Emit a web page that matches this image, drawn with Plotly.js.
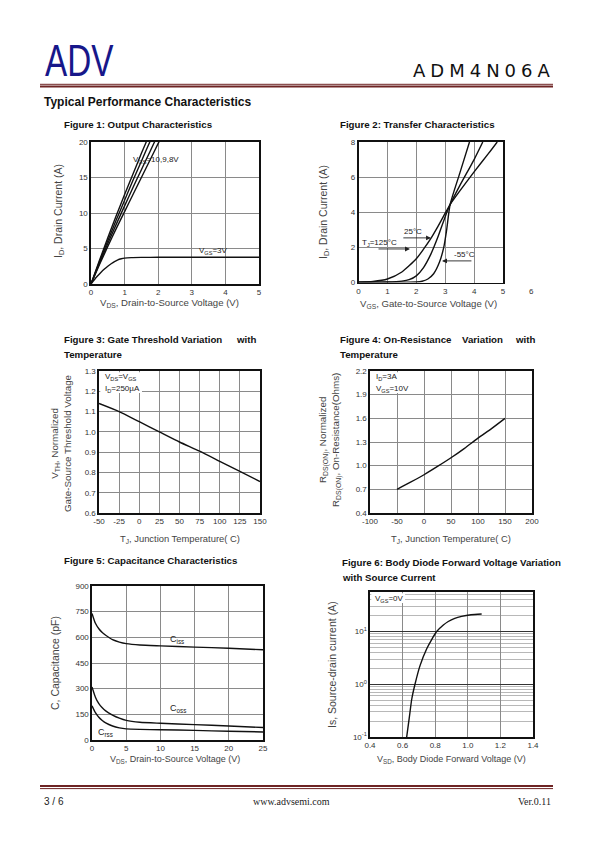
<!DOCTYPE html>
<html>
<head>
<meta charset="utf-8">
<script src="https://cdn.plot.ly/plotly-3.0.1.min.js"></script>
<style>html,body{margin:0;padding:0;background:#fff}</style>
</head>
<body>
<div id="chart" style="width:595px;height:842px"></div>
<script>
// ---------- Figure 1: Output characteristics ----------
const out_vds = [0, 0.25, 0.5, 0.75, 1.0, 1.25, 1.5, 1.75, 2.0, 2.25];
const out_id_vgs10 = [0, 3.3, 6.5, 9.6, 12.6, 15.5, 18.4, 21.2, 24.0, 26.8];
const out_id_vgs9  = [0, 3.1, 6.1, 9.0, 11.8, 14.6, 17.3, 20.0, 22.6, 25.2];
const out_id_vgs8  = [0, 2.9, 5.7, 8.4, 11.0, 13.6, 16.1, 18.6, 21.1, 23.6];
const out_id_vgs7  = [0, 2.7, 5.3, 7.8, 10.2, 12.6, 15.0, 17.4, 19.8, 22.2];
const out_vds3 = [0, 0.1, 0.2, 0.3, 0.4, 0.5, 0.6, 0.7, 0.8, 0.9, 1.0, 1.2, 1.5, 2, 3, 4, 5];
const out_id_vgs3 = [0, 0.6, 1.15, 1.65, 2.1, 2.5, 2.85, 3.15, 3.4, 3.55, 3.65, 3.72, 3.75, 3.76, 3.77, 3.77, 3.77];
const f1_xticks = [0, 1, 2, 3, 4, 5];
const f1_yticks = [0, 5, 10, 15, 20];

// ---------- Figure 2: Transfer characteristics ----------
const tr_vgs_125 = [0, 0.5, 1.0, 1.5, 2.0, 2.25, 2.5, 2.75, 3.0, 3.17, 3.5, 4.0, 4.5, 4.8];
const tr_id_125  = [0.02, 0.06, 0.2, 0.6, 1.35, 1.9, 2.5, 3.2, 3.95, 4.44, 5.2, 6.3, 7.35, 8.0];
const tr_vgs_25  = [0, 1.0, 1.5, 1.75, 2.0, 2.25, 2.5, 2.75, 3.0, 3.17, 3.5, 4.0, 4.3];
const tr_id_25   = [0.02, 0.03, 0.08, 0.16, 0.38, 0.85, 1.6, 2.6, 3.75, 4.44, 5.5, 7.0, 8.0];
const tr_vgs_m55 = [0, 1.5, 2.0, 2.2, 2.4, 2.6, 2.8, 2.95, 3.05, 3.17, 3.5, 3.84];
const tr_id_m55  = [0.02, 0.02, 0.03, 0.07, 0.2, 0.5, 1.15, 2.0, 3.0, 4.44, 6.2, 8.0];
const f2_xticks = [0, 1, 2, 3, 4, 5];
const f2_extra_tick = "6";
const f2_yticks = [0, 2, 4, 6, 8];

// ---------- Figure 3: Gate threshold vs temperature ----------
const vth_tj  = [-50, -25, 0, 25, 50, 75, 100, 125, 150];
const vth_norm = [1.14, 1.10, 1.05, 1.0, 0.95, 0.905, 0.855, 0.805, 0.755];
const f3_xticks = [-50, -25, 0, 25, 50, 75, 100, 125, 150];
const f3_xticklabels = ["-50", "-25", "0", "25", "50", "75", "100", "125", "150"];
const f3_yticks = [0.6, 0.7, 0.8, 0.9, 1.0, 1.1, 1.2, 1.3];

// ---------- Figure 4: On-resistance vs temperature ----------
const rds_tj   = [-50, -25, 0, 25, 50, 75, 100, 125, 150];
const rds_norm = [0.70, 0.79, 0.885, 0.99, 1.10, 1.22, 1.35, 1.47, 1.60];
const f4_xticks = [-100, -50, 0, 50, 100, 150, 200];
const f4_xticklabels = ["-100", "-50", "0", "50", "100", "150", "200"];
const f4_yticks = [0.4, 0.7, 1.0, 1.3, 1.6, 1.9, 2.2];

// ---------- Figure 5: Capacitance ----------
const cap_vds = [0, 0.5, 1, 1.5, 2, 3, 4, 5, 7, 10, 15, 20, 25];
const cap_ciss = [740, 682, 650, 628, 612, 586, 572, 563, 555, 550, 543, 536, 527];
const cap_coss = [310, 250, 212, 188, 170, 146, 128, 115, 104, 98, 90, 82, 73];
const cap_crss = [200, 160, 133, 114, 100, 82, 71, 65, 62, 60, 56, 51, 47];
const f5_xticks = [0, 5, 10, 15, 20, 25];
const f5_yticks = [0, 150, 300, 450, 600, 750, 900];

// ---------- Figure 6: Body diode ----------
const bd_vsd = [0.625, 0.64, 0.656, 0.676, 0.707, 0.748, 0.78, 0.809, 0.85, 0.88, 0.92, 0.962, 1.02, 1.085];
const bd_is  = [0.1, 0.22, 0.52, 1.0, 2.26, 4.7, 7.2, 10, 13.3, 15.5, 17.8, 19.4, 20.8, 21.5];
const f6_xticks = [0.4, 0.6, 0.8, 1.0, 1.2, 1.4];
const f6_yticks = [0.1, 1, 10];
const f6_yticktext = ["10<sup>-1</sup>", "10<sup>0</sup>", "10<sup>1</sup>"];
const f6_minor = [0.2, 0.3, 0.4, 0.5, 0.6, 0.7, 0.8, 0.9, 2, 3, 4, 5, 6, 7, 8, 9, 20, 30, 40, 50];

// ---------- layout helpers ----------
const W = 595, H = 842;
const FONT = "Arial, 'Liberation Sans', sans-serif";
const dx = (a, b) => [a / W, b / W];
const dy = (top, bot) => [1 - bot / H, 1 - top / H];
const GRID = '#8a8a8a';

function axis(domain, anchor, range, tickvals, extra) {
  return Object.assign({
    domain: domain, anchor: anchor, range: range,
    tickmode: 'array', tickvals: tickvals,
    showgrid: true, gridcolor: GRID, gridwidth: 1,
    zeroline: false, showline: true, mirror: true,
    linecolor: '#111', linewidth: 1.6, ticks: '',
    tickfont: {family: FONT, size: 8, color: '#333'},
    fixedrange: true
  }, extra || {});
}

const line = (x, y, xa, ya, name) => ({
  type: 'scatter', mode: 'lines', x: x, y: y, xaxis: xa, yaxis: ya, name: name,
  line: {color: '#111', width: 1.4, shape: 'spline', smoothing: 0.6}, hoverinfo: 'skip'
});

const traces = [
  line(out_vds, out_id_vgs10, 'x', 'y', 'VGS=10V'),
  line(out_vds, out_id_vgs9, 'x', 'y', 'VGS=9V'),
  line(out_vds, out_id_vgs8, 'x', 'y', 'VGS=8V'),
  line(out_vds, out_id_vgs7, 'x', 'y', 'VGS=7V'),
  line(out_vds3, out_id_vgs3, 'x', 'y', 'VGS=3V'),
  line(tr_vgs_125, tr_id_125, 'x2', 'y2', '125C'),
  line(tr_vgs_25, tr_id_25, 'x2', 'y2', '25C'),
  line(tr_vgs_m55, tr_id_m55, 'x2', 'y2', '-55C'),
  line(vth_tj, vth_norm, 'x3', 'y3', 'VTH'),
  line(rds_tj, rds_norm, 'x4', 'y4', 'RDS(ON)'),
  line(cap_vds, cap_ciss, 'x5', 'y5', 'Ciss'),
  line(cap_vds, cap_coss, 'x5', 'y5', 'Coss'),
  line(cap_vds, cap_crss, 'x5', 'y5', 'Crss'),
  line(bd_vsd, bd_is, 'x6', 'y6', 'Is')
];

// paper-positioned text
function T(x, y, text, o) {
  o = o || {};
  return {
    xref: 'paper', yref: 'paper', x: x / W, y: 1 - y / H, text: text, showarrow: false,
    xanchor: o.xa || 'left', yanchor: 'middle', textangle: o.rot || 0,
    font: {family: o.family || FONT, size: o.size || 9, color: o.color || '#222', weight: o.weight || 'normal'}
  };
}
// data-positioned text
function D(xr, yr, x, y, text, o) {
  o = o || {};
  return {
    xref: xr, yref: yr, x: x, y: y, text: text, showarrow: false,
    xanchor: o.xa || 'left', yanchor: 'middle',
    font: {family: FONT, size: o.size || 8, color: '#222'}
  };
}
function arrow(xr, yr, x0, y0, x1, y1) {
  return {xref: xr, yref: yr, axref: xr, ayref: yr, x: x1, y: y1, ax: x0, ay: y0, text: '',
    showarrow: true, arrowhead: 2, arrowsize: 1.1, arrowwidth: 0.9, arrowcolor: '#222'};
}
function boxText(xr, yr, x, y, text) {
  return {xref: xr, yref: yr, x: x, y: y, text: text, showarrow: false,
    xanchor: 'left', yanchor: 'middle', font: {family: FONT, size: 8, color: '#222'}};
}

const TITLE_C = '#444';
const annotations = [
  // header / footer
  T(43, 60, "ADV", {size: 45, color: '#17178a'}),
  T(557, 70, "<span style='letter-spacing:5px'>ADM4N06A</span>", {size: 18, xa: 'right', color: '#111', family: "'DejaVu Sans', Arial"}),
  T(42, 102, "Typical Performance Characteristics", {size: 12, weight: 'bold', color: '#111'}),
  T(62, 124, "Figure 1: Output Characteristics", {size: 9.7, weight: 'bold', color: '#111'}),
  T(338, 124, "Figure 2: Transfer Characteristics", {size: 9.7, weight: 'bold', color: '#111'}),
  T(62, 339, "Figure 3: Gate Threshold Variation", {size: 9.7, weight: 'bold', color: '#111'}),
  T(258, 339, "with", {size: 9.7, weight: 'bold', color: '#111', xa: 'right'}),
  T(62, 354, "Temperature", {size: 9.7, weight: 'bold', color: '#111'}),
  T(338, 339, "Figure 4: On-Resistance", {size: 9.7, weight: 'bold', color: '#111'}),
  T(482, 339, "Variation", {size: 9.7, weight: 'bold', color: '#111', xa: 'center'}),
  T(537, 339, "with", {size: 9.7, weight: 'bold', color: '#111', xa: 'right'}),
  T(338, 354, "Temperature", {size: 9.7, weight: 'bold', color: '#111'}),
  T(62, 560, "Figure 5: Capacitance Characteristics", {size: 9.7, weight: 'bold', color: '#111'}),
  T(340, 562, "Figure 6: Body Diode Forward Voltage Variation", {size: 9.7, weight: 'bold', color: '#111'}),
  T(340, 577, "with Source Current", {size: 9.7, weight: 'bold', color: '#111'}),
  T(42, 801, "3 / 6", {size: 10, color: '#222'}),
  T(291, 801, "www.advsemi.com", {size: 10, color: '#222', xa: 'center', family: "'Liberation Serif', 'Times New Roman', serif"}),
  T(553, 801, "Ver.0.11", {size: 10, color: '#222', xa: 'right', family: "'Liberation Serif', 'Times New Roman', serif"}),

  // axis titles
  T(59, 211, "I<sub>D</sub>, Drain Current (A)", {rot: -90, xa: 'center', size: 10.5, color: TITLE_C}),
  T(169, 303, "V<sub>DS</sub>, Drain-to-Source Voltage (V)", {xa: 'center', size: 9.6, color: TITLE_C}),
  T(324, 212, "I<sub>D</sub>, Drain Current (A)", {rot: -90, xa: 'center', size: 10.5, color: TITLE_C}),
  T(428, 304, "V<sub>GS</sub>, Gate-to-Source Voltage (V)", {xa: 'center', size: 9.6, color: TITLE_C}),
  T(61, 443, "V<sub>TH</sub>, Normalized<br>Gate-Source Threshold Voltage", {rot: -90, xa: 'center', size: 9.8, color: TITLE_C}),
  T(180, 539, "T<sub>J</sub>, Junction Temperature( C)", {xa: 'center', size: 9.4, color: TITLE_C}),
  T(330, 440, "R<sub>DS(ON)</sub>, Normalized<br>R<sub>DS(ON)</sub>, On-Resistance(Ohms)", {rot: -90, xa: 'center', size: 9.8, color: TITLE_C}),
  T(451, 539, "T<sub>J</sub>, Junction Temperature( C)", {xa: 'center', size: 9.4, color: TITLE_C}),
  T(55, 663, "C, Capacitance (pF)", {rot: -90, xa: 'center', size: 10.5, color: TITLE_C}),
  T(175, 759, "V<sub>DS</sub>, Drain-to-Source Voltage (V)", {xa: 'center', size: 9, color: TITLE_C}),
  T(332, 665, "Is, Source-drain current (A)", {rot: -90, xa: 'center', size: 10.5, color: TITLE_C}),
  T(451, 759, "V<sub>SD</sub>, Body Diode Forward Voltage (V)", {xa: 'center', size: 9, color: TITLE_C}),

  // figure 1 labels
  D('x', 'y', 1.18, 17.4, "V<sub>GS</sub>=10,9,8V"),
  D('x', 'y', 3.14, 4.6, "V<sub>GS</sub>=3V"),
  // figure 2 labels
  {xref: 'x2 domain', yref: 'y2', x: 1.2, y: 0, yanchor: 'middle', xanchor: 'center', text: f2_extra_tick,
   showarrow: false, yshift: -9, font: {family: FONT, size: 8, color: '#333'}},
  D('x2', 'y2', 0.05, 2.26, "T<sub>J</sub>=125°C"),
  D('x2', 'y2', 1.5, 2.92, "25°C"),
  D('x2', 'y2', 3.22, 1.57, "-55°C"),
  arrow('x2', 'y2', 0.64, 1.91, 1.78, 1.91),
  arrow('x2', 'y2', 1.5, 2.54, 2.51, 2.54),
  arrow('x2', 'y2', 3.96, 1.23, 2.89, 1.23),
  // figure 3 labels
  boxText('x3 domain', 'y3 domain', 0.025, 0.958, "V<sub>DS</sub>=V<sub>GS</sub>"),
  boxText('x3 domain', 'y3 domain', 0.025, 0.873, "I<sub>D</sub>=250µA"),
  // figure 4 labels
  boxText('x4 domain', 'y4 domain', 0.025, 0.958, "I<sub>D</sub>=3A"),
  boxText('x4 domain', 'y4 domain', 0.025, 0.873, "V<sub>GS</sub>=10V"),
  // figure 5 labels
  D('x5', 'y5', 11.1, 585, "C<sub>iss</sub>", {size: 9}),
  D('x5', 'y5', 11.1, 185, "C<sub>oss</sub>", {size: 9}),
  D('x5', 'y5', 0.6, 44, "C<sub>rss</sub>", {size: 9}),
  // figure 6 label
  boxText('x6 domain', 'y6 domain', 0.02, 0.955, "V<sub>GS</sub>=0V")
];

const RED = '#6e2424';
const shapes = [
  {type: 'line', xref: 'paper', yref: 'paper', x0: 40 / W, x1: 553 / W, y0: 1 - 84.3 / H, y1: 1 - 84.3 / H, line: {color: RED, width: 1}},
  {type: 'line', xref: 'paper', yref: 'paper', x0: 40 / W, x1: 553 / W, y0: 1 - 86.6 / H, y1: 1 - 86.6 / H, line: {color: RED, width: 2}},
  {type: 'line', xref: 'paper', yref: 'paper', x0: 40 / W, x1: 553 / W, y0: 1 - 786 / H, y1: 1 - 786 / H, line: {color: RED, width: 2}},
  {type: 'line', xref: 'paper', yref: 'paper', x0: 40 / W, x1: 553 / W, y0: 1 - 788.6 / H, y1: 1 - 788.6 / H, line: {color: RED, width: 1}},
  // white label boxes hiding the grid
  {type: 'rect', xref: 'x3 domain', yref: 'y3 domain', x0: 0.008, x1: 0.267, y0: 0.845, y1: 0.992, fillcolor: '#fff', line: {width: 0}, layer: 'above'},
  {type: 'rect', xref: 'x4 domain', yref: 'y4 domain', x0: 0.008, x1: 0.247, y0: 0.845, y1: 0.992, fillcolor: '#fff', line: {width: 0}, layer: 'above'},
  {type: 'rect', xref: 'x6 domain', yref: 'y6 domain', x0: 0.008, x1: 0.215, y0: 0.924, y1: 0.992, fillcolor: '#fff', line: {width: 0}, layer: 'above'}
];

const layout = {
  width: W, height: H, margin: {l: 0, r: 0, t: 0, b: 0},
  paper_bgcolor: '#fff', plot_bgcolor: '#fff', showlegend: false,
  font: {family: FONT, color: '#222'},
  xaxis:  axis(dx(91, 259), 'y', [0, 5], f1_xticks),
  yaxis:  axis(dy(142, 284), 'x', [0, 20], f1_yticks),
  xaxis2: axis(dx(358.5, 503), 'y2', [0, 5], f2_xticks),
  yaxis2: axis(dy(142, 282.5), 'x2', [0, 8], f2_yticks),
  xaxis3: axis(dx(99, 260), 'y3', [-50, 150], f3_xticks, {ticktext: f3_xticklabels}),
  yaxis3: axis(dy(371, 513), 'x3', [0.6, 1.3], f3_yticks, {tickformat: '.1f'}),
  xaxis4: axis(dx(370, 532), 'y4', [-100, 200], f4_xticks, {ticktext: f4_xticklabels}),
  yaxis4: axis(dy(371, 513), 'x4', [0.4, 2.2], f4_yticks, {tickformat: '.1f'}),
  xaxis5: axis(dx(92, 263), 'y5', [0, 25], f5_xticks),
  yaxis5: axis(dy(586, 740), 'x5', [0, 900], f5_yticks),
  xaxis6: axis(dx(370, 533), 'y6', [0.4, 1.4], f6_xticks, {tickformat: '.1f'}),
  yaxis6: axis(dy(592, 737), 'x6', [-1, 1.75], f6_yticks, {
    type: 'log', ticktext: f6_yticktext, gridcolor: '#333', gridwidth: 1.2,
    minor: {tickmode: 'array', tickvals: f6_minor, showgrid: true, gridcolor: '#9a9a9a', gridwidth: 0.7, ticks: ''}
  }),
  annotations: annotations,
  shapes: shapes
};

Plotly.newPlot('chart', traces, layout, {staticPlot: true, displayModeBar: false}).then(function () {
  // condense the "ADV" logo horizontally (narrow logo face), keeping its left edge fixed
  document.querySelectorAll('#chart .annotation-text').forEach(function (t) {
    if (t.textContent === 'ADV') {
      var bb = t.getBBox();
      var left = bb.x;
      t.setAttribute('transform', 'translate(' + left + ',0) scale(0.74,1) translate(' + (-left) + ',0)');
    }
  });
});
</script>
</body>
</html>
